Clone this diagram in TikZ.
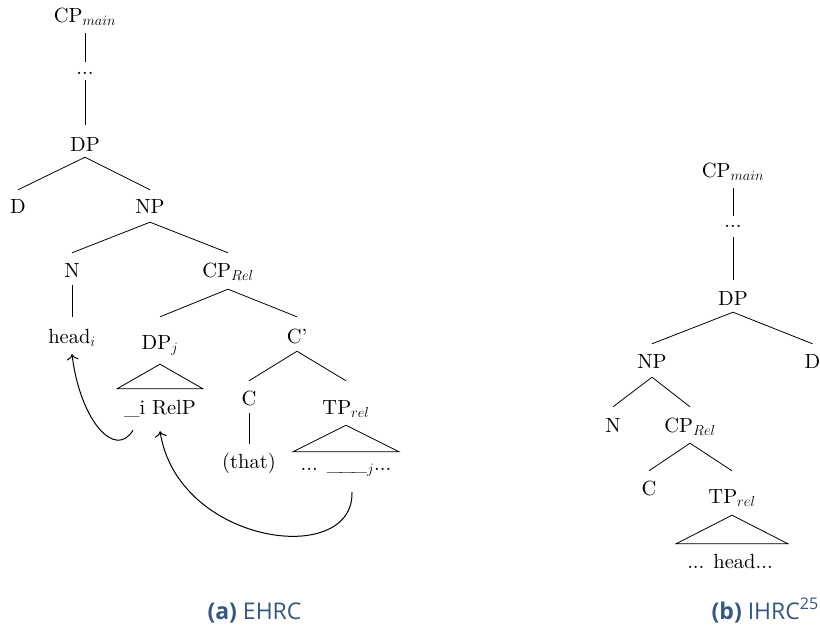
\documentclass[tikz,border=0pt]{standalone}
\usepackage{fontspec}
\newfontfamily\capfont{Open Sans}
\newfontfamily\treefont{lmroman10-regular.otf}
\usetikzlibrary{calc,arrows.meta}
\definecolor{capblue}{RGB}{52,88,132}
\tikzset{
  tn/.style={anchor=base, inner sep=0pt, font=\treefont\fontsize{20.5}{24}\selectfont, text height=24pt, text depth=8pt},
  br/.style={line width=0.8pt},
  mv/.style={line width=1pt, -{To[scale=1.5]}},
  captext/.style={anchor=base, inner sep=0pt, text=capblue, font=\capfont\fontsize{23}{26}\selectfont}
}
\begin{document}
\begin{tikzpicture}[x=1pt, y=-1pt]
\useasboundingbox (0,0) rectangle (820,630);
% ---- (a) EHRC ----
\node[tn, text depth=11pt] (cpm) at (85,22) {CP$_{main}$};
\node[tn, text height=12pt, text depth=6pt] (dl) at (85,74) {...};
\node[tn, text height=26pt, text depth=6pt] (dp) at (85,151) {DP};
\node[tn, text height=23pt] (d) at (18,213) {D};
\node[tn, text height=23pt, text depth=9pt] (np) at (150,213) {NP};
\node[tn] (n) at (72,277) {N};
\node[tn, text depth=12pt] (cprel) at (228,277) {CP$_{Rel}$};
\node[tn, text height=26pt] (head) at (72,343) {head$_i$};
\node[tn, text height=32pt, text depth=15pt] (dpj) at (160,349) {DP$_j$};
\node[tn, text height=26pt] (cbar) at (297,343) {C’};
\node[tn] (c) at (249,405) {C};
\node[tn, text height=33pt, text depth=11pt] (tprel) at (346,414) {TP$_{rel}$};
\node[tn] (that) at (249,468) {(that)};
\node[tn, text height=25pt, text depth=16pt] (relp) at (160,414) {\_i RelP};
\node[tn, text height=18pt, text depth=22pt] (gap) at (346,470) {... \_\kern-3pt\_\kern-3pt\_$_j$...};

\draw[br] (cpm.south) -- (dl.north);
\draw[br] (dl.south) -- (dp.north);
\draw[br] (dp.south) -- (d.north);
\draw[br] (dp.south) -- (np.north);
\draw[br] (np.south) -- (n.north);
\draw[br] (np.south) -- (cprel.north);
\draw[br] (n.south) -- (head.north);
\draw[br] (cprel.south) -- (dpj.north);
\draw[br] (cprel.south) -- (cbar.north);
\draw[br] (cbar.south) -- (c.north);
\draw[br] (cbar.south) -- (tprel.north);
\draw[br] (c.south) -- (that.north);
\draw[br] (dpj.south) -- ([xshift=-43pt]relp.north) -- ([xshift=43pt]relp.north) -- cycle;
\draw[br] (tprel.south) -- ([xshift=-53pt]gap.north) -- ([xshift=53pt]gap.north) -- cycle;

\draw[mv] ([xshift=-27pt]relp.south) .. controls (115,460) and (80,420) .. ([yshift=-3pt]head.south);
\draw[mv] ([xshift=6pt]gap.south) .. controls (354,568) and (178,545) .. ([yshift=-1pt]relp.south);

% ---- (b) IHRC ----
\node[tn, text depth=11pt] (cpm2) at (733,177) {CP$_{main}$};
\node[tn, text height=11pt, text depth=10pt] (dr) at (733,227) {...};
\node[tn, text height=25pt, text depth=7pt] (dp2) at (733,305) {DP};
\node[tn, text depth=9pt] (np2) at (652,368) {NP};
\node[tn] (d2) at (812.5,368) {D};
\node[tn, text height=25pt] (n2) at (613,432) {N};
\node[tn, text height=25pt, text depth=11pt] (cprel2) at (690,432) {CP$_{Rel}$};
\node[tn] (c2) at (649,495) {C};
\node[tn, text height=32pt, text depth=12pt] (tprel2) at (732,503) {TP$_{rel}$};
\node[tn] (head2) at (730,568) {... head...};

\draw[br] (cpm2.south) -- (dr.north);
\draw[br] (dr.south) -- (dp2.north);
\draw[br] (dp2.south) -- (np2.north);
\draw[br] (dp2.south) -- (d2.north);
\draw[br] (np2.south) -- (n2.north);
\draw[br] (np2.south) -- (cprel2.north);
\draw[br] (cprel2.south) -- (c2.north);
\draw[br] (cprel2.south) -- (tprel2.north);
\draw[br] (tprel2.south) -- ([xshift=-54pt]head2.north) -- ([xshift=58pt]head2.north) -- cycle;

% ---- captions ----
\node[captext] (capa) at (254.5,619) {\textbf{(a)} EHRC};
\node[captext, anchor=base east] (capb) at (819,619) {\textbf{(b)} IHRC\textsuperscript{25}};
\end{tikzpicture}
\end{document}
